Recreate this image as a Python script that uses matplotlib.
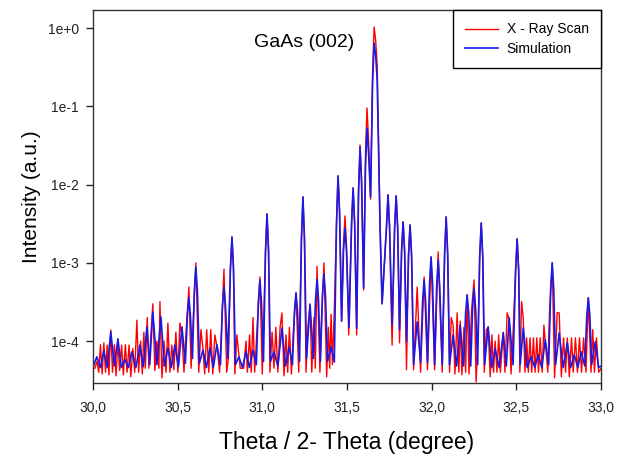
import matplotlib
matplotlib.use("Agg")
import matplotlib.pyplot as plt
from matplotlib.ticker import FixedLocator, NullLocator

plt.rcParams['font.family'] = ['Liberation Sans', 'DejaVu Sans']

# ---- data ----
# Simulation: fringe maxima / minima
sim_theta = [30.000, 30.024, 30.045, 30.065, 30.085, 30.106, 30.127, 30.148, 30.168, 30.189,
             30.210, 30.230, 30.254, 30.278, 30.298, 30.319, 30.336, 30.354, 30.378, 30.402,
             30.422, 30.443, 30.463, 30.484, 30.505, 30.526, 30.546, 30.567, 30.588, 30.608,
             30.629, 30.650, 30.670, 30.691, 30.711, 30.732, 30.753, 30.774, 30.797, 30.821,
             30.842, 30.862, 30.883, 30.904, 30.924, 30.945, 30.965, 30.986, 31.007, 31.028,
             31.048, 31.069, 31.092, 31.116, 31.137, 31.158, 31.178, 31.199, 31.220, 31.240,
             31.261, 31.282, 31.302, 31.323, 31.343, 31.364, 31.385, 31.406, 31.425, 31.447,
             31.468, 31.488, 31.512, 31.536, 31.557, 31.577, 31.598, 31.618, 31.639, 31.660,
             31.678, 31.695, 31.707, 31.742, 31.766, 31.790, 31.810, 31.831, 31.851, 31.872,
             31.893, 31.914, 31.934, 31.955, 31.975, 31.996, 32.017, 32.038, 32.062, 32.085,
             32.105, 32.126, 32.147, 32.168, 32.188, 32.209, 32.230, 32.250, 32.271, 32.292,
             32.312, 32.333, 32.354, 32.374, 32.398, 32.422, 32.440, 32.457, 32.480, 32.504,
             32.522, 32.540, 32.563, 32.587, 32.608, 32.628, 32.649, 32.670, 32.690, 32.711,
             32.731, 32.752, 32.776, 32.800, 32.820, 32.841, 32.862, 32.882, 32.903, 32.924,
             32.944, 32.965, 32.985, 33.000]
sim_int = [4.6e-5, 6.3e-5, 4.6e-5, 7.5e-5, 4.6e-5, 1.31e-4, 4.8e-5, 1.07e-4, 4.6e-5, 5.8e-5,
           4.6e-5, 7.3e-5, 4.6e-5, 8.9e-5, 4.7e-5, 1.52e-4, 5.0e-5, 2.36e-4, 5.0e-5, 2.04e-4,
           4.8e-5, 8.2e-5, 4.6e-5, 8.9e-5, 4.7e-5, 1.52e-4, 5.2e-5, 3.56e-4, 6.0e-5, 8.87e-4,
           5.2e-5, 7.7e-5, 4.6e-5, 8.2e-5, 4.6e-5, 9.0e-5, 5.0e-5, 4.92e-4, 6.0e-5, 2.14e-3,
           5.0e-5, 6.3e-5, 4.6e-5, 7.3e-5, 4.6e-5, 7.7e-5, 5.0e-5, 6.05e-4, 5.5e-5, 4.21e-3,
           5.5e-5, 7.3e-5, 4.8e-5, 1.47e-4, 4.8e-5, 8.4e-5, 5.0e-5, 4.13e-4, 5.5e-5, 6.95e-3,
           6.0e-5, 2.9e-4, 6.0e-5, 6.2e-4, 5.5e-5, 7.2e-4, 5.5e-5, 8.4e-5, 5.4e-5, 1.29e-2,
           1.8e-4, 2.79e-3, 1.5e-4, 9.05e-3, 1.45e-4, 3.02e-2, 4.78e-4, 5.28e-2, 6.95e-3, 0.643,
           0.217, 2.87e-3, 3.0e-4, 7.37e-3, 1.6e-4, 7.15e-3, 1.4e-4, 3.33e-3, 1.0e-4, 3.05e-3,
           5.0e-5, 1.76e-4, 5.4e-5, 6.05e-4, 5.4e-5, 1.19e-3, 5.0e-5, 1.09e-3, 5.0e-5, 3.86e-3,
           5.0e-5, 1.2e-4, 4.8e-5, 1.61e-4, 4.8e-5, 3.89e-4, 4.8e-5, 4.64e-4, 5.0e-5, 3.23e-3,
           5.0e-5, 1.52e-4, 4.6e-5, 8.0e-5, 4.6e-5, 1.27e-4, 4.8e-5, 1.98e-4, 5.0e-5, 2.02e-3,
           5.0e-5, 1.47e-4, 4.6e-5, 6.3e-5, 4.6e-5, 6.7e-5, 4.6e-5, 1.04e-4, 5.0e-5, 1.0e-3,
           5.0e-5, 1.27e-4, 4.6e-5, 9.5e-5, 4.6e-5, 6.7e-5, 4.6e-5, 7.3e-5, 4.8e-5, 3.56e-4,
           5.0e-5, 9.8e-5, 4.6e-5, 4.8e-5]
# Simulation: flank points of the larger fringes
sim_flank_theta = [30.558, 30.576, 30.599, 30.617, 30.765, 30.783, 30.812, 30.830, 30.977, 30.995,
                   31.019, 31.037, 31.190, 31.208, 31.231, 31.249, 31.314, 31.332, 31.355, 31.373,
                   31.438, 31.456, 31.479, 31.497, 31.527, 31.545, 31.568, 31.586, 31.609, 31.627,
                   31.651, 31.669, 31.733, 31.751, 31.781, 31.799, 31.822, 31.840, 31.863, 31.881,
                   31.946, 31.964, 31.987, 32.005, 32.029, 32.047, 32.076, 32.094, 32.200, 32.218,
                   32.241, 32.259, 32.283, 32.301, 32.495, 32.513, 32.702, 32.720, 32.915, 32.933]
sim_flank_int = [2.1e-4, 2.1e-4, 4.4e-4, 4.4e-4, 2.8e-4, 2.8e-4, 8.5e-4, 8.5e-4, 3.2e-4, 3.2e-4,
                 1.4e-3, 1.4e-3, 2.4e-4, 2.4e-4, 2.0e-3, 2.0e-3, 3.3e-4, 3.3e-4, 3.8e-4, 3.8e-4,
                 3.2e-3, 4.5e-3, 1.4e-3, 1.4e-3, 3.2e-3, 3.2e-3, 7.9e-3, 1.07e-2, 1.66e-2, 2.6e-2,
                 0.20, 0.45, 2.9e-3, 2.9e-3, 2.8e-3, 2.8e-3, 1.4e-3, 1.4e-3, 1.25e-3, 1.25e-3,
                 3.2e-4, 3.2e-4, 5.4e-4, 5.4e-4, 5.0e-4, 5.0e-4, 1.3e-3, 1.3e-3, 2.3e-4, 2.3e-4,
                 2.6e-4, 2.6e-4, 1.2e-3, 1.2e-3, 8.0e-4, 8.0e-4, 4.6e-4, 4.6e-4, 2.1e-4, 2.1e-4]

# X-ray scan: measured points
xray_theta = [30.000, 30.012, 30.024, 30.035, 30.045, 30.055, 30.065, 30.075, 30.085, 30.095,
              30.106, 30.116, 30.127, 30.137, 30.148, 30.158, 30.170, 30.180, 30.192, 30.202,
              30.214, 30.224, 30.236, 30.247, 30.260, 30.270, 30.282, 30.292, 30.301, 30.310,
              30.321, 30.331, 30.354, 30.366, 30.378, 30.390, 30.396, 30.408, 30.420, 30.432,
              30.443, 30.455, 30.466, 30.478, 30.490, 30.502, 30.514, 30.526, 30.538, 30.550,
              30.567, 30.580, 30.590, 30.608, 30.625, 30.638, 30.650, 30.660, 30.672, 30.684,
              30.696, 30.708, 30.720, 30.735, 30.748, 30.760, 30.774, 30.790, 30.800, 30.821,
              30.838, 30.850, 30.870, 30.890, 30.904, 30.912, 30.925, 30.935, 30.945, 30.955,
              30.965, 30.986, 31.000, 31.028, 31.045, 31.058, 31.069, 31.080, 31.092, 31.105,
              31.116, 31.128, 31.140, 31.150, 31.160, 31.172, 31.185, 31.199, 31.215, 31.240,
              31.258, 31.270, 31.282, 31.292, 31.305, 31.313, 31.323, 31.340, 31.350, 31.364,
              31.380, 31.390, 31.398, 31.406, 31.414, 31.425, 31.447, 31.468, 31.488, 31.510,
              31.536, 31.557, 31.577, 31.598, 31.618, 31.639, 31.660, 31.678, 31.695, 31.707,
              31.742, 31.766, 31.790, 31.810, 31.831, 31.851, 31.872, 31.893, 31.914, 31.934,
              31.955, 31.975, 31.996, 32.017, 32.038, 32.062, 32.085, 32.105, 32.115, 32.126,
              32.137, 32.150, 32.160, 32.168, 32.178, 32.190, 32.200, 32.209, 32.220, 32.235,
              32.250, 32.262, 32.275, 32.292, 32.310, 32.322, 32.333, 32.345, 32.355, 32.365,
              32.374, 32.385, 32.395, 32.405, 32.422, 32.432, 32.445, 32.457, 32.468, 32.480,
              32.504, 32.520, 32.530, 32.540, 32.550, 32.560, 32.570, 32.580, 32.590, 32.600,
              32.610, 32.620, 32.630, 32.640, 32.652, 32.662, 32.670, 32.685, 32.695, 32.711,
              32.725, 32.740, 32.752, 32.765, 32.778, 32.790, 32.800, 32.812, 32.825, 32.835,
              32.848, 32.860, 32.872, 32.884, 32.896, 32.910, 32.924, 32.940, 32.950, 32.960,
              32.972, 32.985, 33.000]
xray_int = [4.4e-5, 4.5e-5, 5.5e-5, 4.0e-5, 9.0e-5, 3.8e-5, 9.5e-5, 4.0e-5, 8.9e-5, 3.7e-5,
            1.39e-4, 4.0e-5, 9.0e-5, 3.6e-5, 1.0e-4, 4.2e-5, 8.9e-5, 3.7e-5, 9.0e-5, 4.0e-5,
            8.9e-5, 3.5e-5, 8.0e-5, 4.0e-5, 1.85e-4, 4.0e-5, 1.0e-4, 3.8e-5, 1.3e-4, 4.5e-5,
            2.0e-4, 4.5e-5, 3.0e-4, 4.2e-5, 1.0e-4, 4.5e-5, 3.2e-4, 3.4e-5, 1.0e-4, 4.0e-5,
            1.7e-4, 4.0e-5, 8.9e-5, 4.3e-5, 1.3e-4, 4.0e-5, 1.7e-4, 1.2e-4, 4.0e-5, 1.3e-4,
            4.9e-4, 4.5e-5, 1.4e-4, 1.0e-3, 4.0e-5, 1.4e-4, 8.0e-5, 3.8e-5, 1.4e-4, 4.0e-5,
            1.4e-4, 3.8e-5, 1.2e-4, 8.0e-5, 4.0e-5, 1.5e-4, 8.3e-4, 4.0e-5, 6.0e-5, 2.14e-3,
            3.8e-5, 1.2e-4, 4.5e-5, 4.5e-5, 1.0e-4, 4.0e-5, 1.2e-4, 4.0e-5, 2.0e-4, 4.0e-5,
            1.0e-4, 6.6e-4, 3.8e-5, 4.21e-3, 4.0e-5, 1.3e-4, 4.5e-5, 1.5e-4, 4.0e-5, 1.5e-4,
            2.29e-4, 3.6e-5, 1.2e-4, 4.0e-5, 1.5e-4, 3.8e-5, 1.5e-4, 4.13e-4, 4.0e-5, 6.95e-3,
            4.0e-5, 1.6e-4, 3.0e-4, 4.0e-5, 2.0e-4, 4.5e-5, 9.0e-4, 4.0e-5, 2.0e-4, 1.0e-3,
            3.5e-5, 1.5e-4, 4.5e-5, 2.2e-4, 5.0e-5, 2.5e-4, 1.29e-2, 1.8e-4, 3.97e-3, 1.2e-4,
            9.0e-3, 1.2e-4, 3.2e-2, 4.5e-4, 9.5e-2, 6.5e-3, 1.03, 0.337, 3.0e-3, 3.0e-4,
            7.4e-3, 8.9e-5, 7.2e-3, 9.5e-5, 3.33e-3, 4.3e-5, 3.05e-3, 4.3e-5, 4.9e-4, 4.0e-5,
            6.6e-4, 4.3e-5, 1.19e-3, 4.3e-5, 1.38e-3, 4.0e-5, 3.86e-3, 4.0e-5, 2.0e-4, 1.6e-4,
            3.8e-5, 2.3e-4, 4.0e-5, 1.8e-4, 3.7e-5, 1.5e-4, 4.0e-5, 3.9e-4, 3.8e-5, 2.5e-4,
            6.05e-4, 3.0e-5, 1.6e-4, 3.23e-3, 4.0e-5, 1.4e-4, 1.5e-4, 3.5e-5, 1.2e-4, 4.0e-5,
            1.0e-4, 4.0e-5, 1.2e-4, 4.0e-5, 1.3e-4, 4.0e-5, 2.3e-4, 1.9e-4, 3.8e-5, 1.3e-4,
            2.02e-3, 4.0e-5, 3.2e-4, 2.0e-4, 4.0e-5, 1.1e-4, 4.0e-5, 1.1e-4, 4.0e-5, 1.1e-4,
            4.0e-5, 1.1e-4, 4.0e-5, 1.1e-4, 4.0e-5, 1.6e-4, 1.0e-4, 4.0e-5, 2.3e-4, 1.0e-3,
            3.4e-5, 2.3e-4, 2.3e-4, 3.5e-5, 1.1e-4, 4.0e-5, 1.1e-4, 3.5e-5, 1.1e-4, 4.0e-5,
            1.1e-4, 4.0e-5, 1.1e-4, 4.0e-5, 1.1e-4, 4.0e-5, 3.6e-4, 4.0e-5, 1.4e-4, 4.0e-5,
            1.1e-4, 4.0e-5, 4.5e-5]
# X-ray scan: flank points of the larger fringes
xray_flank_theta = [30.812, 30.830, 31.019, 31.037, 31.231, 31.249, 31.438, 31.456, 31.479, 31.497,
                    31.527, 31.545, 31.568, 31.586, 31.609, 31.627, 31.651, 31.669, 31.733, 31.751,
                    31.781, 31.799, 31.822, 31.840, 31.863, 31.881, 32.076, 32.094, 32.283, 32.301,
                    32.495, 32.513]
xray_flank_int = [8.5e-4, 8.5e-4, 1.4e-3, 1.4e-3, 2.0e-3, 2.0e-3, 3.2e-3, 4.5e-3, 1.7e-3, 1.7e-3,
                  3.2e-3, 3.2e-3, 8.3e-3, 1.1e-2, 2.6e-2, 3.8e-2, 0.28, 0.70, 2.9e-3, 2.9e-3,
                  2.8e-3, 2.8e-3, 1.4e-3, 1.4e-3, 1.25e-3, 1.25e-3, 1.3e-3, 1.3e-3, 1.2e-3, 1.2e-3,
                  8.0e-4, 8.0e-4]

x_ticks = [30.0, 30.5, 31.0, 31.5, 32.0, 32.5, 33.0]
x_tick_labels = ["30,0", "30,5", "31,0", "31,5", "32,0", "32,5", "33,0"]
y_ticks = [1e0, 1e-1, 1e-2, 1e-3, 1e-4]
y_tick_labels = ["1e+0", "1e-1", "1e-2", "1e-3", "1e-4"]


def merged(t_main, i_main, t_flank, i_flank):
    pts = sorted(zip(list(t_main) + list(t_flank), list(i_main) + list(i_flank)))
    return [p[0] for p in pts], [p[1] for p in pts]


xr_t, xr_i = merged(xray_theta, xray_int, xray_flank_theta, xray_flank_int)
sm_t, sm_i = merged(sim_theta, sim_int, sim_flank_theta, sim_flank_int)

# ---- figure ----
fig = plt.figure(figsize=(6.23, 4.54), dpi=100)
ax = fig.add_axes([0.149, 0.156, 0.816, 0.822])

ax.plot(xr_t, xr_i, color="#ff0000", lw=1.0, label="X - Ray Scan")
ax.plot(sm_t, sm_i, color="#1a1ae6", lw=1.2, label="Simulation")

ax.set_yscale("log")
ax.set_xlim(30.0, 33.0)
ax.set_ylim(2.9e-5, 1.7)

ax.xaxis.set_major_locator(FixedLocator(x_ticks))
ax.set_xticklabels(x_tick_labels)
ax.yaxis.set_major_locator(FixedLocator(y_ticks))
ax.yaxis.set_minor_locator(NullLocator())
ax.set_yticklabels(y_tick_labels)

ax.tick_params(axis="both", direction="out", length=5, width=1, labelsize=10,
               colors="#222222", pad=5)
ax.tick_params(axis="x", pad=8)
for s in ax.spines.values():
    s.set_color("#333333")
    s.set_linewidth(1.0)

ax.set_xlabel("Theta / 2- Theta (degree)", fontsize=16.5, labelpad=11)
ax.set_ylabel("Intensity (a.u.)", fontsize=15, labelpad=5)

ax.text(0.415, 0.912, "GaAs (002)", transform=ax.transAxes, fontsize=14,
        ha="center", va="center")

leg = ax.legend(loc="upper right", bbox_to_anchor=(1.0, 1.0), borderaxespad=0,
                fancybox=False, edgecolor="black", framealpha=1, fontsize=10,
                handlelength=2.4, handletextpad=0.6, labelspacing=0.38,
                borderpad=0.9)
leg.get_frame().set_linewidth(1.0)

fig.savefig("out.png", dpi=100)
